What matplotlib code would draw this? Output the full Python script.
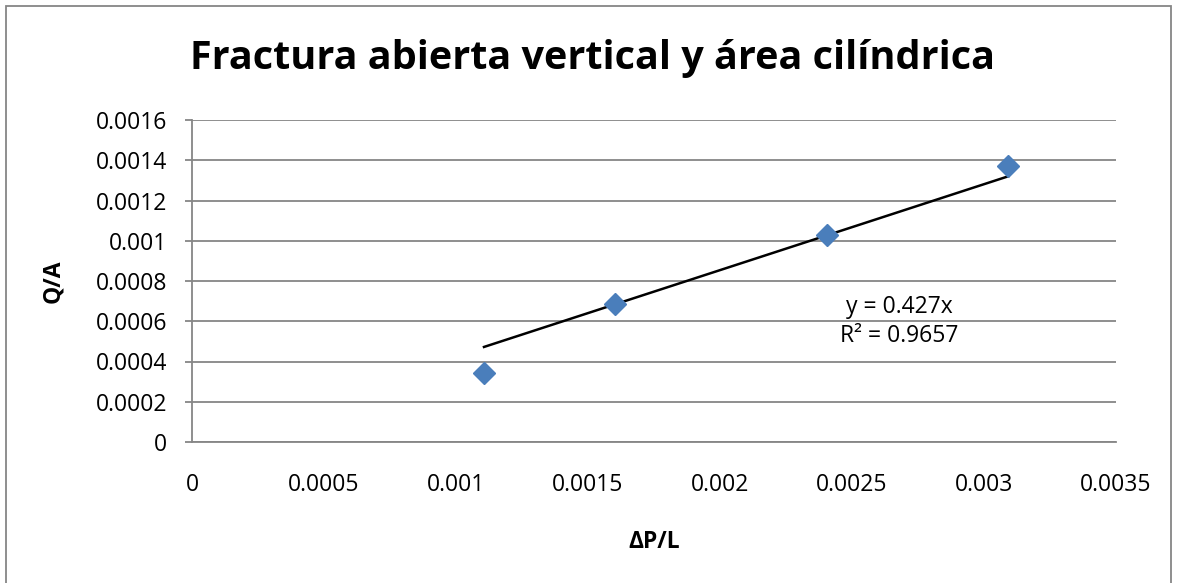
import numpy as np
import matplotlib.pyplot as plt
from matplotlib.patches import Rectangle

plt.rcParams['font.family'] = ['Open Sans', 'DejaVu Sans']

# data
dp_l = [0.001106, 0.001602, 0.002405, 0.003091]
q_a = [0.000343, 0.000686, 0.001029, 0.001371]
slope = 0.427
r2 = 0.9657
xticks = [0, 0.0005, 0.001, 0.0015, 0.002, 0.0025, 0.003, 0.0035]
xlabels = ["0", "0.0005", "0.001", "0.0015", "0.002", "0.0025", "0.003", "0.0035"]
yticks = [0, 0.0002, 0.0004, 0.0006, 0.0008, 0.001, 0.0012, 0.0014, 0.0016]
ylabels = ["0", "0.0002", "0.0004", "0.0006", "0.0008", "0.001", "0.0012", "0.0014", "0.0016"]

fig = plt.figure(figsize=(11.77, 5.83), dpi=100)
ax = fig.add_axes([192/1177, 1 - 442/583, (1116-192)/1177, (442-120)/583])

grey = "#868686"
ax.set_xlim(0, 0.0035)
ax.set_ylim(0, 0.0016)
ax.set_yticks(yticks)
ax.set_yticklabels(ylabels, fontsize=16.5)
ax.set_xticks(xticks)
ax.set_xticklabels(xlabels, fontsize=16.5)
ax.grid(axis='y', color=grey, lw=1.3)
ax.set_axisbelow(True)
for s in ['top', 'right']:
    ax.spines[s].set_visible(False)
for s in ['left', 'bottom']:
    ax.spines[s].set_color(grey)
    ax.spines[s].set_linewidth(1.3)
ax.tick_params(axis='y', length=5, color=grey, width=1.3, pad=13)
ax.tick_params(axis='x', length=0, pad=22)

# trendline
xt = np.array([min(dp_l), max(dp_l)])
ax.plot(xt, slope * xt, color='black', lw=1.8, zorder=3)
ax.plot(dp_l, q_a, 'D', color='#4A7EBB', markersize=11, zorder=4)

ax.text(0.00268, 0.0006, "y = %.3fx\nR² = %.4f" % (slope, r2), ha='center', va='center',
        fontsize=16.5, linespacing=1.25)

ax.set_xlabel("ΔP/L", fontsize=16.5, fontweight='bold', labelpad=24)
ax.set_ylabel("Q/A", fontsize=16.5, fontweight='bold', labelpad=22)
fig.suptitle("Fractura abierta vertical y área cilíndrica", x=593/1177, y=1 - 58/583,
             va='center', fontsize=28.5, fontweight='bold')

fig.patches.append(Rectangle((6/1177, -0.1), 1165/1177, 1.1 - 6/583, transform=fig.transFigure,
                             fill=False, edgecolor=grey, lw=1.3))

fig.savefig("out.png", dpi=100)
